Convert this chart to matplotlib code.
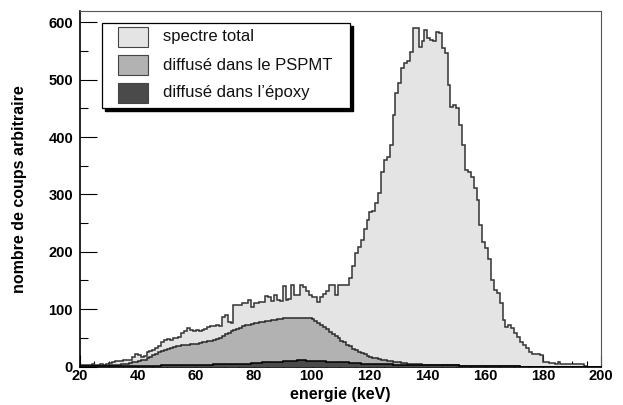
import numpy as np
import matplotlib
matplotlib.use("Agg")
import matplotlib.pyplot as plt
from matplotlib.patches import Rectangle

# --- données (bins de 1 keV, de 20 à 200 keV) ---
edges = np.arange(20, 201, 1)

total = [
    2, 3, 2, 3, 4, 3, 3, 5, 3, 4,
    6, 8, 9, 10, 10, 11, 12, 12, 16, 22,
    20, 17, 18, 25, 27, 28, 33, 35, 42, 47,
    48, 46, 49, 50, 52, 58, 62, 68, 64, 62,
    63, 62, 64, 66, 69, 70, 71, 72, 70, 87,
    90, 78, 76, 107, 107, 108, 110, 110, 116, 104,
    110, 111, 112, 113, 123, 121, 115, 125, 116, 115,
    140, 116, 118, 142, 125, 124, 142, 138, 131, 125,
    122, 122, 113, 121, 127, 131, 142, 142, 125, 142,
    142, 142, 142, 154, 175, 198, 209, 221, 240, 256,
    270, 272, 285, 302, 340, 360, 366, 387, 439, 477,
    494, 520, 529, 532, 549, 590, 590, 558, 567, 587,
    573, 570, 567, 584, 582, 555, 547, 491, 453, 456,
    451, 421, 387, 343, 340, 331, 311, 290, 247, 218,
    206, 187, 151, 133, 129, 110, 81, 69, 72, 68,
    58, 52, 43, 37, 32, 26, 22, 21, 21, 20,
    8, 7, 6, 6, 5, 8, 5, 4, 4, 4,
    4, 4, 4, 4, 1, 0, 0, 0, 0, 0,
]

pspmt = [
    1, 1, 1, 1, 1, 1, 1, 1, 1, 1,
    2, 2, 3, 3, 4, 5, 5, 6, 7, 8,
    10, 11, 12, 14, 17, 20, 22, 25, 27, 29,
    31, 33, 34, 35, 36, 37, 38, 38, 39, 40,
    40, 41, 42, 43, 44, 45, 46, 48, 50, 53,
    56, 59, 62, 64, 66, 68, 70, 72, 73, 74,
    75, 76, 77, 78, 79, 80, 81, 81, 82, 83,
    84, 84, 85, 85, 85, 85, 85, 85, 84, 84,
    82, 80, 76, 72, 69, 65, 61, 57, 53, 49,
    45, 42, 38, 35, 31, 28, 25, 23, 21, 19,
    17, 15, 14, 13, 12, 11, 10, 9, 8, 7,
    7, 6, 6, 5, 5, 4, 4, 4, 3, 3,
    3, 3, 3, 3, 2, 2, 2, 2, 2, 2,
    2, 1, 1, 1, 1, 1, 1, 1, 1, 1,
    1, 1, 1, 1, 1, 1, 1, 1, 1, 1,
    1, 1, 0, 0, 0, 0, 0, 0, 0, 0,
    0, 0, 0, 0, 0, 0, 0, 0, 0, 0,
    0, 0, 0, 0, 0, 0, 0, 0, 0, 0,
]

epoxy = [
    1, 1, 1, 1, 1, 1, 1, 1, 1, 1,
    1, 1, 1, 1, 1, 1, 1, 1, 1, 1,
    1, 1, 1, 1, 1, 1, 1, 1, 2, 2,
    2, 2, 2, 2, 2, 2, 3, 3, 3, 3,
    3, 3, 3, 3, 3, 3, 4, 4, 4, 4,
    4, 4, 4, 5, 5, 5, 5, 5, 5, 6,
    6, 6, 6, 7, 7, 7, 7, 8, 8, 8,
    9, 9, 9, 10, 10, 11, 11, 11, 10, 10,
    10, 9, 9, 9, 9, 8, 8, 8, 8, 7,
    7, 7, 7, 6, 6, 6, 6, 5, 5, 5,
    5, 5, 4, 4, 4, 4, 4, 4, 3, 3,
    3, 3, 3, 3, 2, 2, 2, 2, 2, 2,
    2, 2, 2, 2, 2, 2, 2, 2, 2, 2,
    2, 1, 1, 1, 1, 1, 1, 1, 1, 1,
    1, 1, 1, 1, 1, 1, 1, 1, 1, 1,
    1, 1, 0, 0, 0, 0, 0, 0, 0, 0,
    0, 0, 0, 0, 0, 0, 0, 0, 0, 0,
    0, 0, 0, 0, 0, 0, 0, 0, 0, 0,
]

labels = ["spectre total", "diffusé dans le PSPMT", "diffusé dans l\u2019époxy"]
fills = ["#e4e4e4", "#b2b2b2", "#4a4a4a"]
lines = ["#333333", "#2a2a2a", "#000000"]

W, H = 623, 405
fig = plt.figure(figsize=(W / 100, H / 100), dpi=100)
ax = fig.add_axes([80 / W, 1 - 366.5 / H, 521 / W, 355.5 / H])

for vals, fc, ec, z in zip([total, pspmt, epoxy], fills, lines, [1, 2, 3]):
    ax.stairs(vals, edges, fill=True, facecolor=fc, edgecolor="none", zorder=z)
    ax.stairs(vals, edges, color=ec, lw=1.1, zorder=z + 0.1)

ax.set_xlim(20, 200)
ax.set_ylim(0, 620)
ax.set_axisbelow(True)

ax.set_xticks(np.arange(20, 201, 20))
ax.set_xticks(np.arange(20, 201, 5), minor=True)
ax.set_yticks(np.arange(0, 601, 100))
ax.set_yticks(np.arange(0, 601, 50), minor=True)

ax.tick_params(axis="x", which="major", direction="in", length=8.5, width=0.8,
               top=False, pad=2)
ax.tick_params(axis="x", which="minor", direction="in", length=4.5, width=0.8, top=False)
ax.tick_params(axis="y", which="major", direction="in", length=12, width=0.8,
               right=False, pad=5)
ax.tick_params(axis="y", which="minor", direction="in", length=6, width=0.8, right=False)

tick_font = dict(family="Liberation Sans", weight="bold", size=10.5)
for lab in ax.get_xticklabels() + ax.get_yticklabels():
    lab.set_fontproperties(matplotlib.font_manager.FontProperties(**tick_font))

for s in ["left", "bottom"]:
    ax.spines[s].set_color("black")
    ax.spines[s].set_linewidth(1.2)
for s in ["top", "right"]:
    ax.spines[s].set_color("#555555")
    ax.spines[s].set_linewidth(0.8)

lab_font = dict(family="Liberation Sans", weight="bold", size=11.5)
ax.set_xlabel("energie (keV)", labelpad=3, **lab_font)
ax.set_ylabel("nombre de coups arbitraire", labelpad=15, **lab_font)


# légende dessinée à la main (style ROOT)
def px(x, y):
    return x / W, 1 - y / H


x0, y0, x1, y1 = 102, 23, 350, 108
fig.patches.append(Rectangle(px(x0 + 3, y1 + 3), (x1 - x0) / W, (y1 - y0) / H,
                             transform=fig.transFigure, facecolor="black",
                             edgecolor="black", zorder=5))
fig.patches.append(Rectangle(px(x0, y1), (x1 - x0) / W, (y1 - y0) / H,
                             transform=fig.transFigure, facecolor="white",
                             edgecolor="black", lw=0.9, zorder=6))
for i, (lab, fc) in enumerate(zip(labels, fills)):
    top = 27 + 28 * i
    fig.patches.append(Rectangle(px(118, top + 20), 30 / W, 20 / H,
                                 transform=fig.transFigure, facecolor=fc,
                                 edgecolor="#444444", lw=0.8, zorder=7))
    fig.text(*px(163, top + 10), lab, family="Liberation Sans", size=12,
             va="center", ha="left", color="#111111", zorder=8)

fig.savefig("out.png", dpi=100)
